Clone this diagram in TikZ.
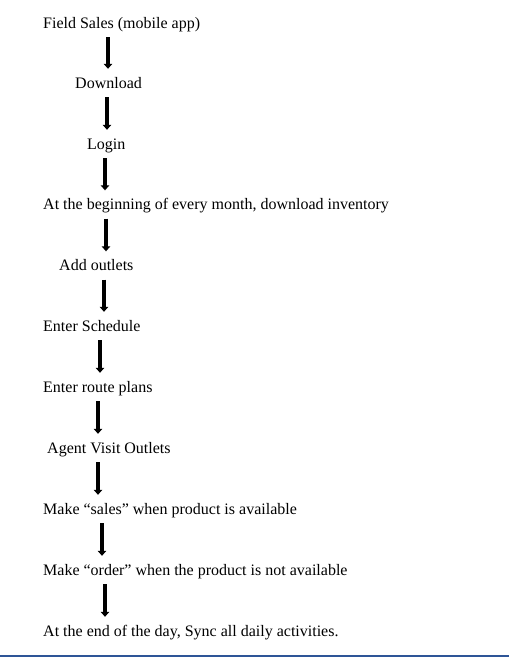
\documentclass[tikz,border=0pt]{standalone}
\usepackage{fontspec}
\setmainfont{Liberation Serif}
\usepackage{tikz}
\usepackage{xcolor}
\usetikzlibrary{arrows.meta}

\begin{document}
\begin{tikzpicture}[x=1pt,y=-1pt,
  stage/.style={anchor=base west,inner sep=0pt,text height=19pt,text depth=9pt,font=\fontsize{16}{19}\selectfont},
  flowarrow/.style={line width=3.5pt,-{Triangle[width=8.5pt,length=5pt]}}]
\definecolor{wordblue}{HTML}{2E5597}
\useasboundingbox (0,0) rectangle (509,657);
  \foreach \name/\xpos/\ypos/\txt in {
    s1/43/28/{Field Sales (mobile app)},
    s2/75/88/{Download},
    s3/87/149/{Login},
    s4/43/209.5/{At the beginning of every month, download inventory},
    s5/59/270.5/{Add outlets},
    s6/43/331/{Enter Schedule},
    s7/43/392/{Enter route plans},
    s8/47/453/{Agent Visit Outlets},
    s9/43/514/{Make “sales” when product is available},
    s10/43/575/{Make “order” when the product is not available},
    s11/43/636/{At the end of the day, Sync all daily activities.}}
  {  \node [stage] (\name) at (\xpos,\ypos) {\txt};}
  \foreach \from/\to/\ax in {s1/s2/108,s2/s3/107,s3/s4/105,s4/s5/106,s5/s6/104,s6/s7/100,s7/s8/98,s8/s9/98,s9/s10/102,s10/s11/105}
  {  \draw [flowarrow] (\from.south -| \ax,0) -- (\to.north -| \ax,0);}
\fill [wordblue] (0,655) rectangle (509,657);
\end{tikzpicture}
\end{document}
